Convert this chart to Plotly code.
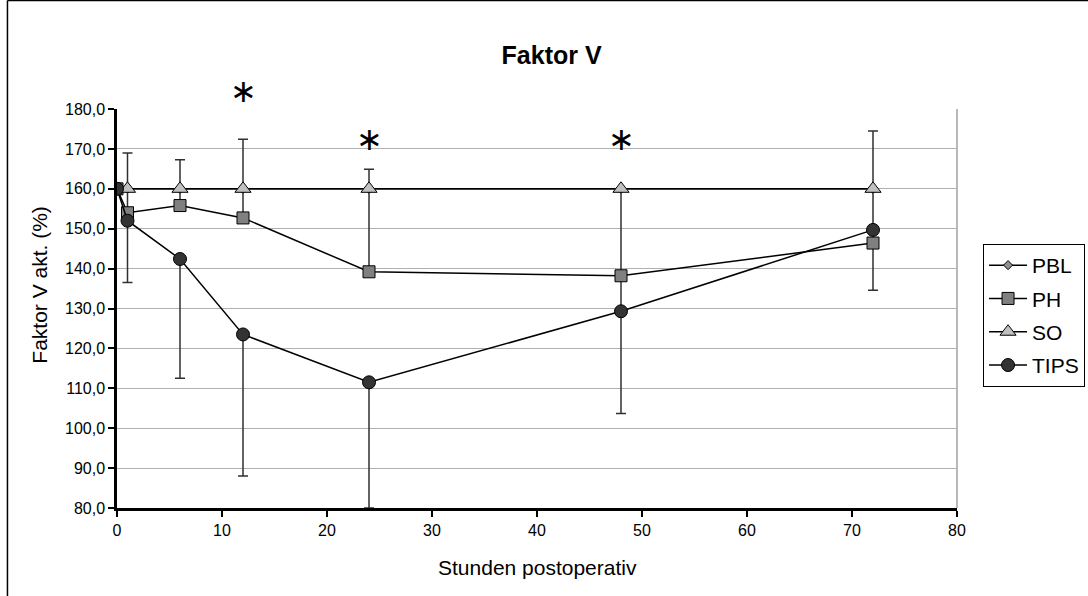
import plotly.graph_objects as go

# ---- data ----
hours_pbl = [0, 1, 6, 12, 24, 48, 72]
pbl = [160.0, 160.0, 160.0, 160.0, 160.0, 160.0, 160.0]

hours = [0, 1, 6, 12, 24, 48, 72]
ph = [160.0, 154.0, 155.8, 152.7, 139.2, 138.2, 146.4]
ph_err_plus = [0.0, 6.0, 4.2, 7.3, 20.8, 21.8, 13.6]
ph_err_minus = [0.0, 0.0, 0.0, 0.0, 0.0, 9.5, 11.8]

hours_so = [1, 6, 12, 24, 48, 72]
so = [160.0, 160.0, 160.0, 160.0, 160.0, 160.0]
so_err_plus = [9.0, 7.3, 12.4, 4.9, 0.0, 14.5]
so_err_minus = [0.0, 0.0, 0.0, 0.0, 0.0, 0.0]

tips = [160.0, 152.0, 142.4, 123.5, 111.5, 129.3, 149.7]
tips_err_plus = [0.0, 0.0, 0.0, 0.0, 0.0, 0.0, 0.0]
tips_err_minus = [0.0, 15.5, 29.9, 35.5, 31.5, 25.6, 0.0]

# significance markers (asterisks); the first one sits above the plot top (180)
sig_x = [12, 24, 48]
sig_y = [180.0, 172.4, 172.5]
sig_shift_px = [18, 0, 0]

y_ticks = [80, 90, 100, 110, 120, 130, 140, 150, 160, 170, 180]
x_ticks = [0, 10, 20, 30, 40, 50, 60, 70, 80]

FONT = "Arial, Liberation Sans, sans-serif"

fig = go.Figure()

fig.add_trace(go.Scatter(
    x=hours_pbl, y=pbl, name="PBL", mode="lines+markers", legendgroup="a",
    line=dict(color="black", width=1.5),
    marker=dict(symbol="diamond", size=7, color="#909090", line=dict(color="black", width=1)),
))
fig.add_trace(go.Scatter(
    x=hours, y=ph, name="PH", mode="lines+markers", legendgroup="b",
    line=dict(color="black", width=1.5),
    marker=dict(symbol="square", size=12, color="#808080", line=dict(color="black", width=1)),
    error_y=dict(type="data", symmetric=False, array=ph_err_plus, arrayminus=ph_err_minus,
                 color="#303030", thickness=1.5, width=5),
))
fig.add_trace(go.Scatter(
    x=hours_so, y=so, name="SO", mode="lines+markers", legendgroup="c",
    line=dict(color="black", width=1.5),
    marker=dict(symbol="triangle-up", size=14, color="#c0c0c0", line=dict(color="black", width=1)),
    error_y=dict(type="data", symmetric=False, array=so_err_plus, arrayminus=so_err_minus,
                 color="#303030", thickness=1.5, width=5),
))
fig.add_trace(go.Scatter(
    x=hours, y=tips, name="TIPS", mode="lines+markers", legendgroup="d",
    line=dict(color="black", width=1.5),
    marker=dict(symbol="circle", size=13, color="#333333", line=dict(color="black", width=1)),
    error_y=dict(type="data", symmetric=False, array=tips_err_plus, arrayminus=tips_err_minus,
                 color="#303030", thickness=1.5, width=5),
))

for sx, sy, sh in zip(sig_x, sig_y, sig_shift_px):
    fig.add_annotation(x=sx, y=sy, xref="x", yref="y", yshift=sh, text="∗", showarrow=False,
                       font=dict(family="DejaVu Sans", size=32, color="black"),
                       xanchor="center", yanchor="middle")

# axis titles
fig.add_annotation(x=0.501, y=-0.148, xref="paper", yref="paper", text="Stunden postoperativ",
                   showarrow=False, font=dict(family=FONT, size=21, color="black"),
                   xanchor="center", yanchor="middle")
fig.add_annotation(x=-0.092, y=0.559, xref="paper", yref="paper", text="Faktor V akt. (%)",
                   showarrow=False, textangle=-90, font=dict(family=FONT, size=21, color="black"),
                   xanchor="center", yanchor="middle")

# plot-area right border and outer chart frame
fig.add_shape(type="line", xref="paper", yref="paper", x0=1, x1=1, y0=0, y1=1,
              line=dict(color="#a0a0a0", width=1.5), layer="below")
fig.add_shape(type="line", xref="paper", yref="paper", x0=-0.1304, x1=-0.1304, y0=-0.25, y1=1.2719,
              line=dict(color="black", width=1.5))
fig.add_shape(type="line", xref="paper", yref="paper", x0=-0.1304, x1=1.25, y0=1.2719, y1=1.2719,
              line=dict(color="black", width=1.5))

fig.update_layout(
    width=1088, height=596,
    margin=dict(l=117, r=131, t=109, b=88, autoexpand=False),
    paper_bgcolor="white", plot_bgcolor="white",
    separators=", ",
    font=dict(family=FONT, size=16, color="black"),
    title=dict(text="<b>Faktor V</b>", x=0.507, xref="container", xanchor="center",
               y=0.908, yref="container", yanchor="middle",
               font=dict(family=FONT, size=25, color="black")),
    showlegend=True,
    legend=dict(x=1.031, y=0.6617, xanchor="left", yanchor="top",
                bordercolor="black", borderwidth=1, bgcolor="white",
                font=dict(family=FONT, size=21, color="black"),
                tracegroupgap=3, itemwidth=38),
    xaxis=dict(range=[0, 80], tickvals=x_ticks, showgrid=False, zeroline=False,
               showline=True, linecolor="black", linewidth=2.5,
               ticks="outside", ticklen=6, tickwidth=2, tickcolor="black",
               tickfont=dict(size=16)),
    yaxis=dict(range=[80, 180], tickvals=y_ticks, tickformat=".1f",
               showgrid=True, gridcolor="#b0b0b0", gridwidth=1, zeroline=False,
               showline=True, linecolor="black", linewidth=2.5,
               ticks="outside", ticklen=6, tickwidth=2, tickcolor="black",
               tickfont=dict(size=16)),
)

fig.write_html("out.html")
